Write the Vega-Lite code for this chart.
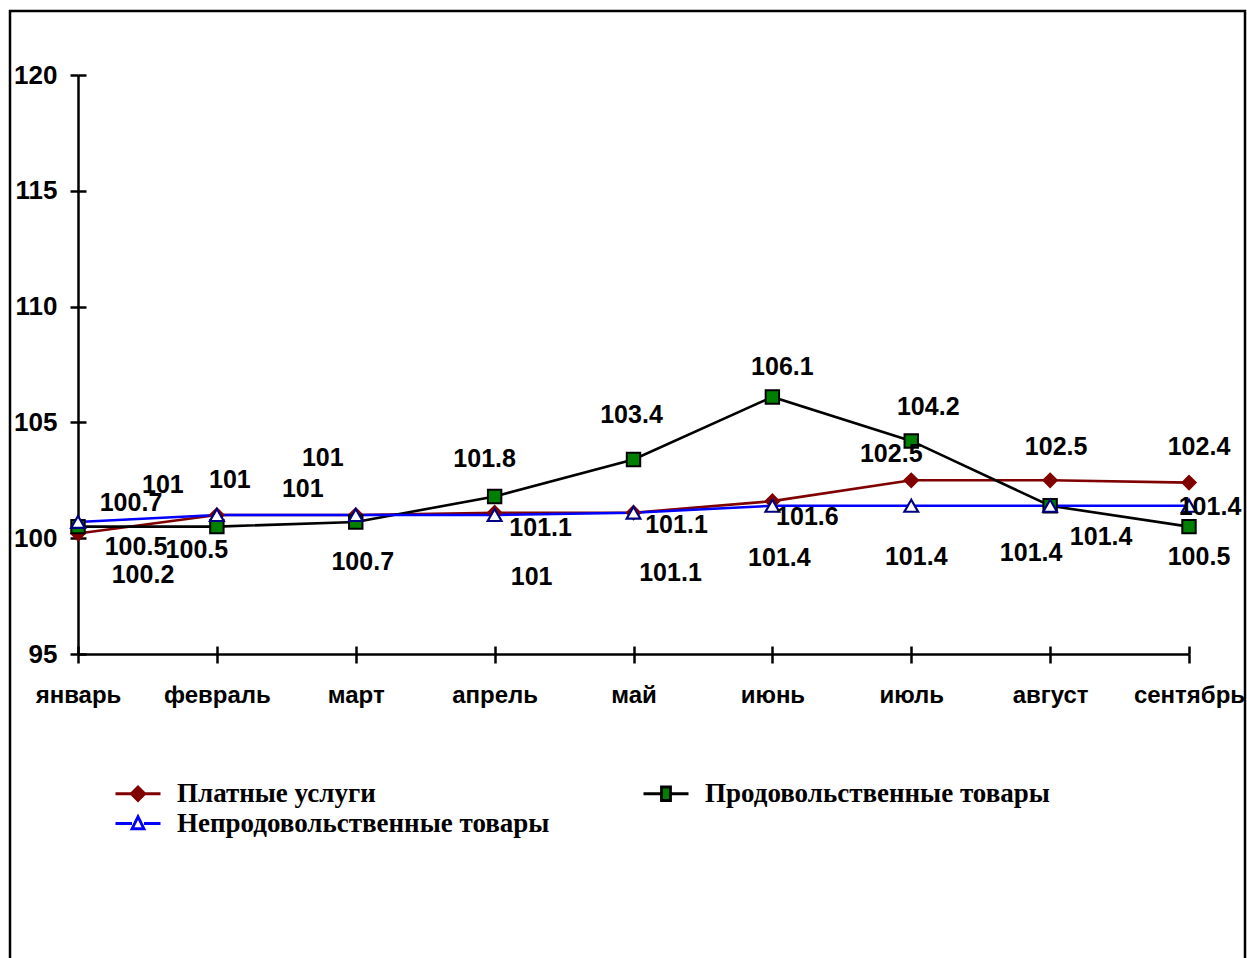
{
  "$schema": "https://vega.github.io/schema/vega-lite/v6.json",
  "width": 1235,
  "height": 957,
  "autosize": {"type": "none"},
  "padding": {"left": 10, "top": 11, "right": 2, "bottom": 0},
  "background": "white",
  "config": {"view": {"stroke": "#000000", "strokeWidth": 2.5}},
  "data": {
    "values": [
      {"series": "Платные услуги", "month": "январь", "value": 100.2},
      {"series": "Платные услуги", "month": "февраль", "value": 101},
      {"series": "Платные услуги", "month": "март", "value": 101},
      {"series": "Платные услуги", "month": "апрель", "value": 101.1},
      {"series": "Платные услуги", "month": "май", "value": 101.1},
      {"series": "Платные услуги", "month": "июнь", "value": 101.6},
      {"series": "Платные услуги", "month": "июль", "value": 102.5},
      {"series": "Платные услуги", "month": "август", "value": 102.5},
      {"series": "Платные услуги", "month": "сентябрь", "value": 102.4},
      {"series": "Продовольственные товары", "month": "январь", "value": 100.5},
      {"series": "Продовольственные товары", "month": "февраль", "value": 100.5},
      {"series": "Продовольственные товары", "month": "март", "value": 100.7},
      {"series": "Продовольственные товары", "month": "апрель", "value": 101.8},
      {"series": "Продовольственные товары", "month": "май", "value": 103.4},
      {"series": "Продовольственные товары", "month": "июнь", "value": 106.1},
      {"series": "Продовольственные товары", "month": "июль", "value": 104.2},
      {"series": "Продовольственные товары", "month": "август", "value": 101.4},
      {"series": "Продовольственные товары", "month": "сентябрь", "value": 100.5},
      {"series": "Непродовольственные товары", "month": "январь", "value": 100.7},
      {"series": "Непродовольственные товары", "month": "февраль", "value": 101},
      {"series": "Непродовольственные товары", "month": "март", "value": 101},
      {"series": "Непродовольственные товары", "month": "апрель", "value": 101},
      {"series": "Непродовольственные товары", "month": "май", "value": 101.1},
      {"series": "Непродовольственные товары", "month": "июнь", "value": 101.4},
      {"series": "Непродовольственные товары", "month": "июль", "value": 101.4},
      {"series": "Непродовольственные товары", "month": "август", "value": 101.4},
      {"series": "Непродовольственные товары", "month": "сентябрь", "value": 101.4}
    ]
  },
  "encoding": {
    "x": {
      "field": "month",
      "type": "ordinal",
      "sort": null,
      "scale": {
        "type": "point",
        "padding": 0,
        "domain": ["январь", "февраль", "март", "апрель", "май", "июнь", "июль", "август", "сентябрь"],
        "range": [68, 1179]
      },
      "axis": null
    },
    "y": {
      "field": "value",
      "type": "quantitative",
      "scale": {"domain": [95, 120], "range": [643, 64], "nice": false, "zero": false},
      "axis": null
    }
  },
  "resolve": {"axis": {"x": "independent", "y": "independent"}},
  "layer": [
    {
      "mark": {"type": "line", "strokeWidth": 2.6},
      "encoding": {
        "x": {
          "field": "month",
          "type": "ordinal",
          "sort": null,
          "scale": {
            "type": "point",
            "padding": 0,
            "domain": ["январь", "февраль", "март", "апрель", "май", "июнь", "июль", "август", "сентябрь"],
            "range": [68, 1179]
          },
          "axis": {
            "title": null,
            "orient": "top",
            "offset": -643,
            "domain": false,
            "grid": false,
            "labels": false,
            "ticks": true,
            "tickSize": 8,
            "tickWidth": 2.5,
            "tickColor": "#000000"
          }
        },
        "y": {
          "field": "value",
          "type": "quantitative",
          "scale": {"domain": [95, 120], "range": [643, 64], "nice": false, "zero": false},
          "axis": {
            "title": null,
            "orient": "right",
            "offset": -1167,
            "values": [95, 100, 105, 110, 115, 120],
            "domain": false,
            "grid": false,
            "labels": false,
            "tickSize": 8,
            "tickWidth": 2.5,
            "tickColor": "#000000"
          }
        },
        "detail": {"field": "series", "type": "nominal"},
        "stroke": {
          "condition": [
            {"test": "datum.series === 'Платные услуги'", "value": "#800000"},
            {"test": "datum.series === 'Продовольственные товары'", "value": "#000000"}
          ],
          "value": "#0000ff"
        }
      }
    },
    {
      "transform": [{"filter": "datum.series === 'Платные услуги'"}],
      "mark": {"type": "point", "shape": "diamond", "filled": true, "size": 180, "fill": "#800000", "stroke": "#800000", "strokeWidth": 2, "opacity": 1},
      "encoding": {
        "x": {
          "field": "month",
          "type": "ordinal",
          "sort": null,
          "scale": {
            "type": "point",
            "padding": 0,
            "domain": ["январь", "февраль", "март", "апрель", "май", "июнь", "июль", "август", "сентябрь"],
            "range": [68, 1179]
          },
          "axis": {
            "title": null,
            "orient": "bottom",
            "offset": -314,
            "domain": true,
            "domainColor": "#000000",
            "domainWidth": 2.5,
            "grid": false,
            "ticks": true,
            "tickSize": 9,
            "tickWidth": 2.5,
            "tickColor": "#000000",
            "labelAngle": 0,
            "labelFont": "Liberation Sans",
            "labelFontSize": 24,
            "labelFontWeight": "bold",
            "labelColor": "#000000",
            "labelPadding": 20
          }
        },
        "y": {
          "field": "value",
          "type": "quantitative",
          "scale": {"domain": [95, 120], "range": [643, 64], "nice": false, "zero": false},
          "axis": {
            "title": null,
            "orient": "left",
            "offset": -68,
            "values": [95, 100, 105, 110, 115, 120],
            "domain": true,
            "domainColor": "#000000",
            "domainWidth": 2.5,
            "grid": false,
            "tickSize": 8,
            "tickWidth": 2.5,
            "tickColor": "#000000",
            "labelFont": "Liberation Sans",
            "labelFontSize": 26,
            "labelFontWeight": "bold",
            "labelColor": "#000000",
            "labelPadding": 13
          }
        }
      }
    },
    {
      "transform": [{"filter": "datum.series === 'Продовольственные товары'"}],
      "mark": {"type": "point", "shape": "square", "filled": true, "size": 180, "fill": "#008000", "stroke": "#000000", "strokeWidth": 2, "opacity": 1}
    },
    {
      "transform": [{"filter": "datum.series === 'Непродовольственные товары'"}],
      "mark": {"type": "point", "shape": "triangle-up", "filled": true, "size": 190, "fill": "#ffffff", "stroke": "#000080", "strokeWidth": 2.2, "opacity": 1}
    },
    {
      "transform": [{"filter": "false"}],
      "mark": {"type": "point", "filled": true, "opacity": 1, "strokeWidth": 2.5},
      "encoding": {
        "shape": {
          "field": "series",
          "type": "nominal",
          "scale": {
            "domain": ["Платные услуги", "Продовольственные товары", "Непродовольственные товары"],
            "range": [
              "M-1.5,0H-0.45M0.45,0H1.5M0,-0.45L0.45,0L0,0.45L-0.45,0Z",
              "M-1.5,0H-0.3M0.3,0H1.5M-0.3,-0.45H0.3V0.45H-0.3Z",
              "M-1.5,0H-0.4M0.4,0H1.5M0,-0.45L0.4,0.35H-0.4Z"
            ]
          },
          "legend": {
            "title": null,
            "orient": "none",
            "legendX": 111.5,
            "legendY": 766,
            "direction": "horizontal",
            "columns": 2,
            "columnPadding": 88,
            "rowPadding": -17,
            "symbolSize": 900,
            "symbolStrokeWidth": 2.8,
            "labelOffset": 22.5,
            "labelFont": "Liberation Serif",
            "labelFontSize": 27,
            "labelFontWeight": "bold",
            "labelColor": "#000000",
            "labelLimit": 0
          }
        },
        "fill": {
          "field": "series",
          "type": "nominal",
          "scale": {
            "domain": ["Платные услуги", "Продовольственные товары", "Непродовольственные товары"],
            "range": ["#800000", "#008000", "#ffffff"]
          }
        },
        "stroke": {
          "field": "series",
          "type": "nominal",
          "scale": {
            "domain": ["Платные услуги", "Продовольственные товары", "Непродовольственные товары"],
            "range": ["#800000", "#000000", "#0000ff"]
          }
        }
      }
    },
    {
      "transform": [{"filter": "datum.series === 'Платные услуги'"}],
      "mark": {
        "type": "text",
        "font": "Liberation Sans",
        "fontSize": 25,
        "fontWeight": "bold",
        "color": "#000000",
        "align": "center",
        "baseline": "middle",
        "dx": {"expr": "[65,13,-33,46,43,35,-20,6,10][indexof(['январь','февраль','март','апрель','май','июнь','июль','август','сентябрь'], datum.month)]"},
        "dy": {"expr": "[41,-35,-57,15,12,16,-26,-33,-36][indexof(['январь','февраль','март','апрель','май','июнь','июль','август','сентябрь'], datum.month)]"}
      },
      "encoding": {"text": {"field": "value", "type": "nominal"}}
    },
    {
      "transform": [{"filter": "datum.series === 'Продовольственные товары'"}],
      "mark": {
        "type": "text",
        "font": "Liberation Sans",
        "fontSize": 25,
        "fontWeight": "bold",
        "color": "#000000",
        "align": "center",
        "baseline": "middle",
        "dx": {"expr": "[58,-20,7,-10,-2,10,17,51,10][indexof(['январь','февраль','март','апрель','май','июнь','июль','август','сентябрь'], datum.month)]"},
        "dy": {"expr": "[20,23,40,-38,-44,-30,-34,31,30][indexof(['январь','февраль','март','апрель','май','июнь','июль','август','сентябрь'], datum.month)]"}
      },
      "encoding": {"text": {"field": "value", "type": "nominal"}}
    },
    {
      "transform": [{"filter": "datum.series === 'Непродовольственные товары'"}],
      "mark": {
        "type": "text",
        "font": "Liberation Sans",
        "fontSize": 25,
        "fontWeight": "bold",
        "color": "#000000",
        "align": "center",
        "baseline": "middle",
        "dx": {"expr": "[53,-54,-53,37,37,7,5,-19,21][indexof(['январь','февраль','март','апрель','май','июнь','июль','август','сентябрь'], datum.month)]"},
        "dy": {"expr": "[-19,-30,-26,62,60,52,51,47,1][indexof(['январь','февраль','март','апрель','май','июнь','июль','август','сентябрь'], datum.month)]"}
      },
      "encoding": {"text": {"field": "value", "type": "nominal"}}
    }
  ]
}
